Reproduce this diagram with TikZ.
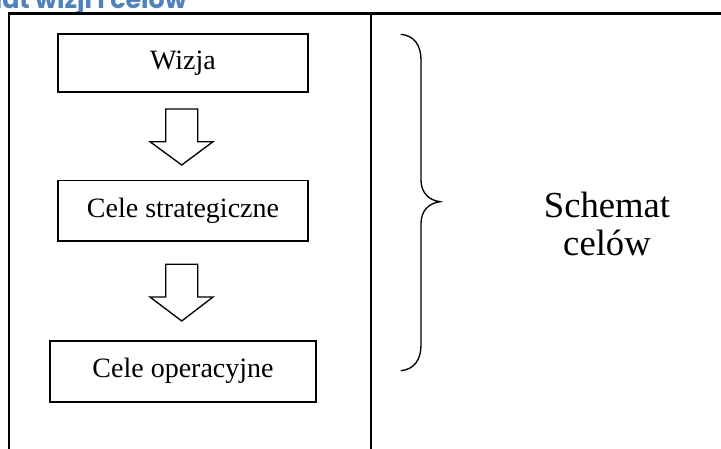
\documentclass[tikz,border=0pt]{standalone}
\usepackage{fontspec}
\setmainfont{Liberation Serif}
\newfontfamily\headfont{Poppins}
\definecolor{headblue}{RGB}{79,129,189}
\begin{document}
\begin{tikzpicture}[x=0.75pt,y=-0.75pt,
  frameline/.style={line width=1.6pt,black},
  box/.style={draw,line width=1.2pt,minimum width=187.5pt,minimum height=43.5pt,inner sep=0pt,font=\fontsize{21}{24}\selectfont},
  blockarrow/.style={draw,line width=1pt,line join=miter},
  bracestyle/.style={draw,line width=1pt},
  bigtext/.style={font=\fontsize{27.5}{30}\selectfont,align=center}]
\useasboundingbox (0,0) rectangle (721,449);
\clip (0,0) rectangle (721,449);
% heading (cropped at top)
\node[anchor=base east,inner sep=0pt,text=headblue,font=\headfont\bfseries\fontsize{19}{22}\selectfont] (head) at (187,9) {Schemat wizji i celów};
% frame
\draw[frameline] (9,449) -- (9,13.5) -- (721,13.5);
\draw[frameline] (371,13.5) -- (371,449);
% boxes
\node[box] (wizja) at (183,63) {Wizja};
\node[box,minimum height=45pt] (strat) at (183,210.7) {Cele strategiczne};
\node[box,minimum width=199.5pt,minimum height=45.75pt] (oper) at (183,371.3) {Cele operacyjne};
% block arrows
\draw[blockarrow] (165.7,109) -- (197.7,109) -- (197.7,141.7) -- (213,141.7) -- (181.7,165) -- (150,141.7) -- (165.7,141.7) -- cycle;
\draw[blockarrow] (165.7,264.3) -- (197.7,264.3) -- (197.7,297) -- (213,297) -- (181.7,321) -- (150,297) -- (165.7,297) -- cycle;
% brace
\draw[bracestyle] (400.7,34.3) .. controls (414,35.5) and (421,45) .. (421,60)
  -- (421,180) .. controls (421,192) and (428,200) .. (440,201.7)
  .. controls (428,203.5) and (421,211) .. (421,224)
  -- (421,345) .. controls (421,360) and (414,369.5) .. (400.7,370.7);
\node[bigtext] (label) at (607,224) {Schemat\\[-2pt]celów};
\end{tikzpicture}
\end{document}
